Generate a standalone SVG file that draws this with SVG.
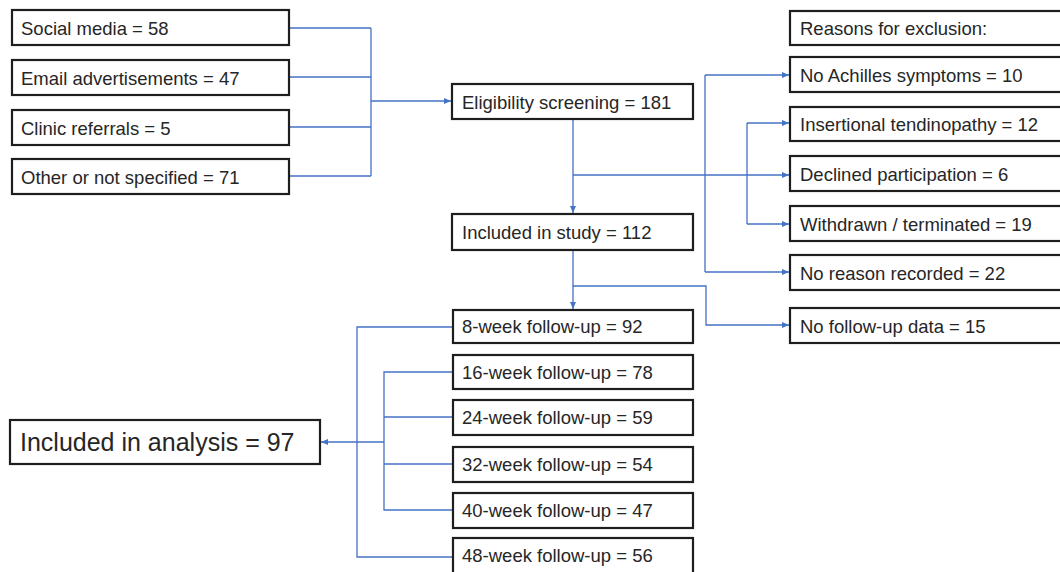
<svg xmlns="http://www.w3.org/2000/svg" width="1060" height="572" viewBox="0 0 1060 572">
<style>
.box{fill:#fff;stroke:#1e1e1e;stroke-width:2.2}
.t{font-family:"Liberation Sans",Arial,sans-serif;font-size:18.5px;fill:#262626}
.big{font-size:25px}
.c{fill:none;stroke:#4472C4;stroke-width:1.3}
</style>
<defs>
<marker id="a" markerWidth="8" markerHeight="8" refX="7" refY="4" orient="auto" markerUnits="userSpaceOnUse">
<path d="M0,1 L7,4 L0,7 Z" fill="#4472C4"/>
</marker>
</defs>
<rect width="1060" height="572" fill="#fff"/>
<g id="connectors">
<path class="c" d="M289,28 H371 M289,77 H371 M289,127 H371 M289,176 H371 M371,28 V176"/>
<path class="c" d="M371,101 H451" marker-end="url(#a)"/>
<path class="c" d="M573,119 V213" marker-end="url(#a)"/>
<path class="c" d="M573,175 H789" marker-end="url(#a)"/>
<path class="c" d="M705,75 V272"/>
<path class="c" d="M705,75 H789" marker-end="url(#a)"/>
<path class="c" d="M705,272 H789" marker-end="url(#a)"/>
<path class="c" d="M747,123 V224"/>
<path class="c" d="M747,123 H789" marker-end="url(#a)"/>
<path class="c" d="M747,224 H789" marker-end="url(#a)"/>
<path class="c" d="M573,250 V309" marker-end="url(#a)"/>
<path class="c" d="M573,286 H706 V325 H789" marker-end="url(#a)"/>
<path class="c" d="M453,327 H357 V557 H453 M453,372 H384 V510 H453 M453,417 H384 M453,464 H384"/>
<path class="c" d="M384,442 H321" marker-end="url(#a)"/>
</g>
<g id="social"><rect class="box" x="12" y="10" width="277" height="35"/><text class="t" x="21" y="34.5">Social media = 58</text></g>
<g id="email"><rect class="box" x="12" y="60" width="277" height="35"/><text class="t" x="21" y="84.5">Email advertisements = 47</text></g>
<g id="clinic"><rect class="box" x="12" y="110" width="277" height="35"/><text class="t" x="21" y="134.5">Clinic referrals = 5</text></g>
<g id="other"><rect class="box" x="12" y="159" width="277" height="35"/><text class="t" x="21" y="183.5">Other or not specified = 71</text></g>
<g id="eligibility"><rect class="box" x="452" y="84" width="241" height="35"/><text class="t" x="462" y="108.5">Eligibility screening = 181</text></g>
<g id="included"><rect class="box" x="452" y="214" width="241" height="36"/><text class="t" x="462" y="239">Included in study = 112</text></g>
<g id="reasons"><rect class="box" x="790" y="11" width="280" height="34"/><text class="t" x="800" y="35">Reasons for exclusion:</text></g>
<g id="achilles"><rect class="box" x="790" y="57" width="280" height="35"/><text class="t" x="800" y="81.5">No Achilles symptoms = 10</text></g>
<g id="insertional"><rect class="box" x="790" y="107" width="280" height="34"/><text class="t" x="800" y="131">Insertional tendinopathy = 12</text></g>
<g id="declined"><rect class="box" x="790" y="156" width="280" height="35"/><text class="t" x="800" y="180.5">Declined participation = 6</text></g>
<g id="withdrawn"><rect class="box" x="790" y="206" width="280" height="35"/><text class="t" x="800" y="230.5">Withdrawn / terminated = 19</text></g>
<g id="noreason"><rect class="box" x="790" y="255" width="280" height="35"/><text class="t" x="800" y="279.5">No reason recorded = 22</text></g>
<g id="nofollowup"><rect class="box" x="790" y="308" width="280" height="35"/><text class="t" x="800" y="332.5">No follow-up data = 15</text></g>
<g id="w8"><rect class="box" x="453" y="310" width="240" height="33"/><text class="t" x="462" y="333">8-week follow-up = 92</text></g>
<g id="w16"><rect class="box" x="453" y="355" width="240" height="34"/><text class="t" x="462" y="378.5">16-week follow-up = 78</text></g>
<g id="w24"><rect class="box" x="453" y="400" width="240" height="35"/><text class="t" x="462" y="424">24-week follow-up = 59</text></g>
<g id="w32"><rect class="box" x="453" y="447" width="240" height="35"/><text class="t" x="462" y="471">32-week follow-up = 54</text></g>
<g id="w40"><rect class="box" x="453" y="493" width="240" height="35"/><text class="t" x="462" y="517">40-week follow-up = 47</text></g>
<g id="w48"><rect class="box" x="453" y="538" width="240" height="36"/><text class="t" x="462" y="562">48-week follow-up = 56</text></g>
<g id="analysis"><rect class="box" x="10" y="420" width="310" height="44"/><text class="t big" x="20" y="451">Included in analysis = 97</text></g>
</svg>
